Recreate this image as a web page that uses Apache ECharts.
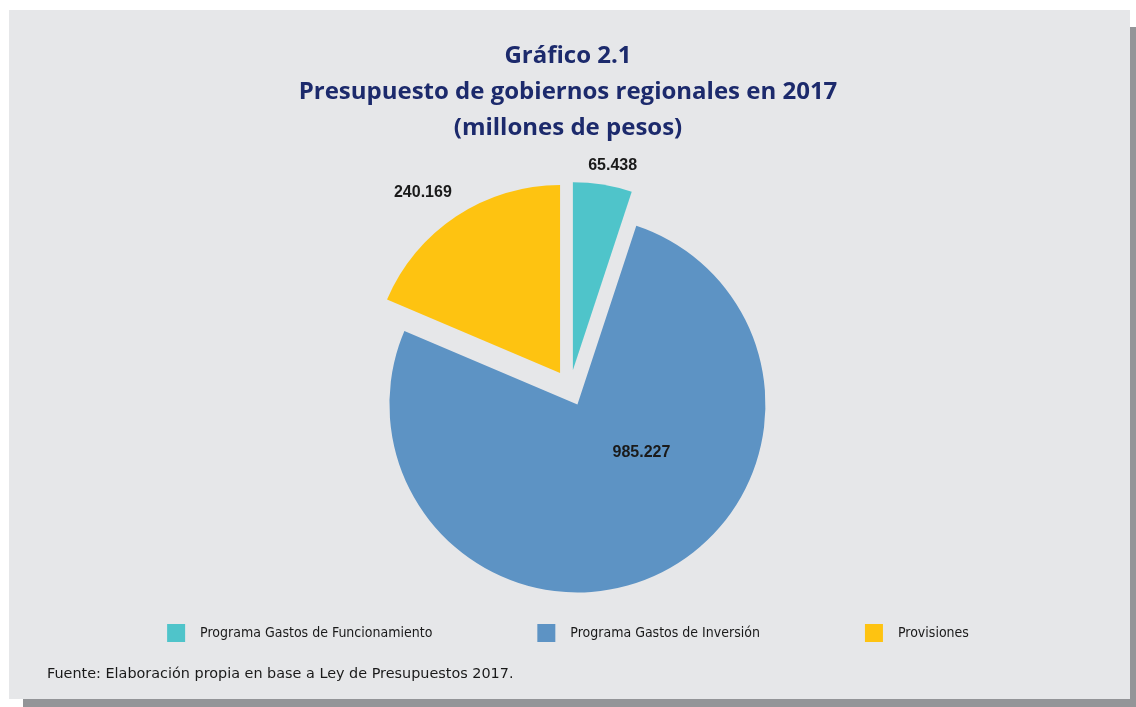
<!DOCTYPE html>
<html>
<head>
<meta charset="utf-8">
<script src="https://cdn.jsdelivr.net/npm/echarts@6/dist/echarts.min.js"></script>
<style>
    html, body { margin: 0; padding: 0; width: 1136px; height: 707px; overflow: hidden; background: #fff; }
    #panel {
        position: absolute; left: 9px; top: 10px; width: 1121px; height: 689px;
        background: #e6e7e9; box-shadow: 14px 17px 0 #939598;
    }
    #chart { position: absolute; left: 0; top: 0; width: 1136px; height: 707px; }
</style>
</head>
<body>
<div id="panel"></div>
<div id="chart"></div>
<script>
    // datos del grafico
    const categories = ['Programa Gastos de Funcionamiento', 'Programa Gastos de Inversión', 'Provisiones'];
    const values = [65438, 985227, 240169];
    const valueLabels = ['65.438', '985.227', '240.169'];
    const colors = ['#4fc4ca', '#5d93c4', '#fec311'];

    const narrow = "'Liberation Sans Narrow', 'DejaVu Sans Condensed', 'Liberation Sans', sans-serif";

    let myChart = echarts.init(document.getElementById('chart'));

    // ajustes de etiqueta por sector (largo de linea y desplazamiento)
    const labelLines = [
        { length: 19, length2: 7 },
        { length: 19, length2: 0 },
        { length: 28, length2: 18 }
    ];

    let pieData = categories.map(function (name, i) {
        let item = {
            name: name,
            value: values[i],
            selected: true,
            itemStyle: { color: colors[i] },
            labelLine: { show: false, length: labelLines[i].length, length2: labelLines[i].length2 }
        };
        if (i === 1) {
            item.label = { position: 'inside' };
        }
        return item;
    });

    myChart.setOption({
        backgroundColor: 'transparent',
        animation: false,
        title: [
            {
                text: 'Gráfico 2.1\nPresupuesto de gobiernos regionales en 2017\n(millones de pesos)',
                left: 'center',
                top: 38,
                padding: 0,
                textStyle: {
                    fontFamily: "'Open Sans', 'Noto Sans', sans-serif",
                    fontSize: 24,
                    fontWeight: 'bold',
                    lineHeight: 36,
                    color: '#1c2a6c'
                }
            },
            {
                text: 'Fuente: Elaboración propia en base a Ley de Presupuestos 2017.',
                left: 47,
                top: 667,
                padding: 0,
                textStyle: {
                    fontFamily: "'DejaVu Sans', sans-serif",
                    fontSize: 14.4,
                    fontWeight: 'normal',
                    color: '#1a1a1a'
                }
            }
        ],
        legend: {
            data: categories,
            left: 'center',
            top: 624,
            padding: 0,
            icon: 'rect',
            itemWidth: 18,
            itemHeight: 18,
            itemGap: 105,
            selectedMode: false,
            textStyle: {
                fontFamily: narrow,
                fontSize: 14,
                color: '#1a1a1a',
                padding: [0, 0, 0, 10]
            }
        },
        series: [
            {
                type: 'pie',
                center: [570, 388],
                radius: 188,
                startAngle: 90,
                clockwise: true,
                selectedMode: 'multiple',
                selectedOffset: 18,
                select: { itemStyle: { borderWidth: 0 } },
                emphasis: { disabled: true },
                label: {
                    show: true,
                    position: 'outside',
                    formatter: function (p) { return valueLabels[p.dataIndex]; },
                    fontFamily: "'Liberation Sans', sans-serif",
                    fontSize: 16,
                    fontWeight: 'bold',
                    color: '#1a1a1a',
                    distanceToLabelLine: 0
                },
                labelLine: { show: false },
                labelLayout: function (params) {
                    if (params.dataIndex === 1) {
                        // la etiqueta interior va mas arriba y a la derecha
                        return { align: 'center', dx: 24, dy: -40 };
                    }
                    return { align: 'center' };
                },
                data: pieData
            }
        ]
    });

    window.addEventListener('resize', function () {
        myChart.resize();
    });
</script>
</body>
</html>
